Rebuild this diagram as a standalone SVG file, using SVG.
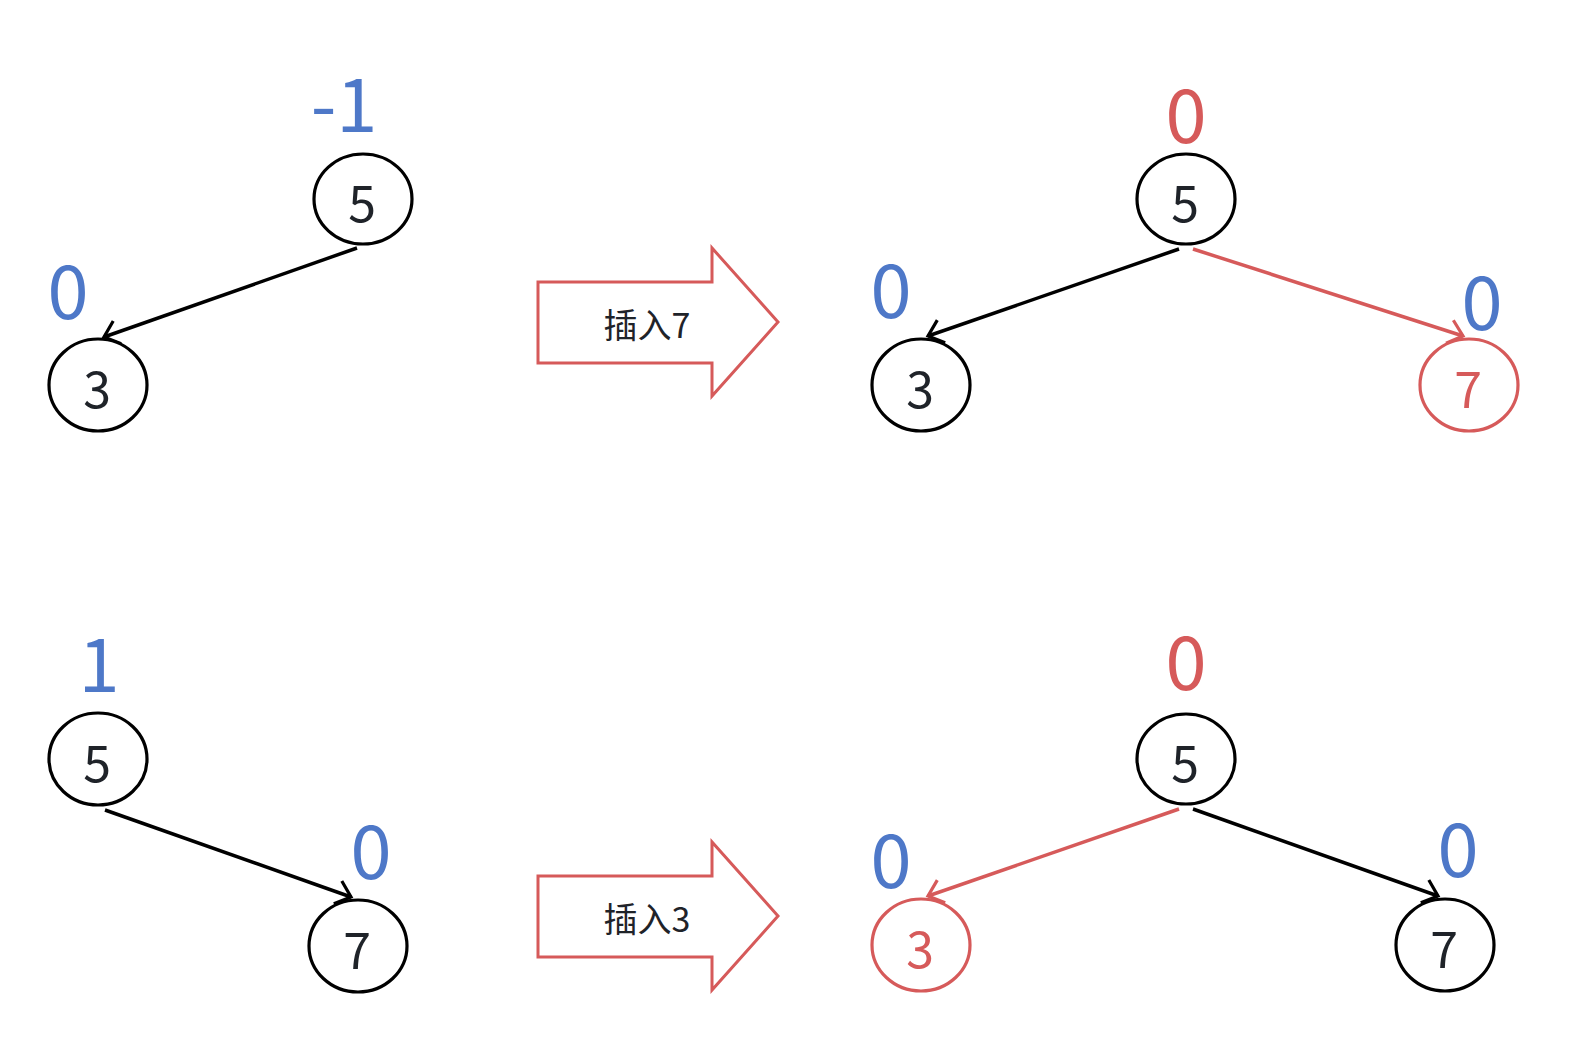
<svg xmlns="http://www.w3.org/2000/svg" width="1572" height="1044" viewBox="0 0 1572 1044">
<style>
.node{fill:#ffffff;stroke:#000000;stroke-width:3.2}
.node.red{stroke:#d65a5a}
.nt{font-family:"Noto Sans CJK SC","Noto Sans",sans-serif;font-size:50px;fill:#1f2329;text-anchor:middle}
.nt.red{fill:#d65a5a}
.lbl{font-family:"Noto Sans CJK SC","Noto Sans",sans-serif;font-size:74px;fill:#4e78c8;text-anchor:middle}
.lbl.red{fill:#d65a5a}
.edge{fill:none;stroke:#000000;stroke-width:3.5}
.edge.red{stroke:#d65a5a}
.big{fill:#ffffff;stroke:#d65a5a;stroke-width:3}
.bt{font-family:"Noto Sans CJK SC","Noto Sans",sans-serif;font-size:34px;fill:#1f2329;text-anchor:middle}
</style>
<defs>
<marker id="ab" viewBox="-16 -14 20 28" markerWidth="20" markerHeight="28" refX="0" refY="0" orient="auto" markerUnits="userSpaceOnUse">
<path d="M-14,-12 L0,0 L-14,12" fill="none" stroke="#000000" stroke-width="3.2"/>
</marker>
<marker id="ar" viewBox="-16 -14 20 28" markerWidth="20" markerHeight="28" refX="0" refY="0" orient="auto" markerUnits="userSpaceOnUse">
<path d="M-14,-12 L0,0 L-14,12" fill="none" stroke="#d65a5a" stroke-width="3.2"/>
</marker>
</defs>
<rect width="1572" height="1044" fill="#ffffff"/>
<g id="connectors">
<line class="edge" x1="357" y1="248" x2="104" y2="337" marker-end="url(#ab)"/>
<line class="edge" x1="1179" y1="249" x2="928" y2="336" marker-end="url(#ab)"/>
<line class="edge red" x1="1193" y1="249" x2="1463" y2="336" marker-end="url(#ar)"/>
<line class="edge" x1="105" y1="810" x2="351" y2="897" marker-end="url(#ab)"/>
<line class="edge red" x1="1179" y1="809" x2="928" y2="896" marker-end="url(#ar)"/>
<line class="edge" x1="1193" y1="809" x2="1438" y2="896" marker-end="url(#ab)"/>
</g>
<g id="arrow-insert7">
<polygon class="big" points="538,282 712,282 712,248 778,322 712,396 712,363 538,363"/>
<text class="bt" x="647" y="338">插入7</text>
</g>
<g id="arrow-insert3">
<polygon class="big" points="538,876 712,876 712,842 778,916 712,990 712,957 538,957"/>
<text class="bt" x="647" y="932">插入3</text>
</g>
<g id="t1-n5"><ellipse class="node" cx="363" cy="199" rx="49" ry="45"/><text class="nt" x="362" y="222">5</text><text class="lbl" x="344" y="132">-1</text></g>
<g id="t1-n3"><ellipse class="node" cx="98" cy="385" rx="49" ry="46"/><text class="nt" x="97" y="408">3</text><text class="lbl" x="68" y="319">0</text></g>
<g id="t2-n5"><ellipse class="node" cx="1186" cy="199" rx="49" ry="45"/><text class="nt" x="1185" y="222">5</text><text class="lbl red" x="1186" y="143">0</text></g>
<g id="t2-n3"><ellipse class="node" cx="921" cy="385" rx="49" ry="46"/><text class="nt" x="920" y="408">3</text><text class="lbl" x="891" y="318">0</text></g>
<g id="t2-n7"><ellipse class="node red" cx="1469" cy="385" rx="49" ry="46"/><text class="nt red" x="1468" y="408">7</text><text class="lbl" x="1482" y="330">0</text></g>
<g id="t3-n5"><ellipse class="node" cx="98" cy="759" rx="49" ry="46"/><text class="nt" x="97" y="782">5</text><text class="lbl" x="99" y="692">1</text></g>
<g id="t3-n7"><ellipse class="node" cx="358" cy="946" rx="49" ry="46"/><text class="nt" x="357" y="969">7</text><text class="lbl" x="371" y="879">0</text></g>
<g id="t4-n5"><ellipse class="node" cx="1186" cy="759" rx="49" ry="45"/><text class="nt" x="1185" y="782">5</text><text class="lbl red" x="1186" y="690">0</text></g>
<g id="t4-n3"><ellipse class="node red" cx="921" cy="945" rx="49" ry="46"/><text class="nt red" x="920" y="968">3</text><text class="lbl" x="891" y="888">0</text></g>
<g id="t4-n7"><ellipse class="node" cx="1445" cy="945" rx="49" ry="46"/><text class="nt" x="1444" y="968">7</text><text class="lbl" x="1458" y="877">0</text></g>
</svg>
